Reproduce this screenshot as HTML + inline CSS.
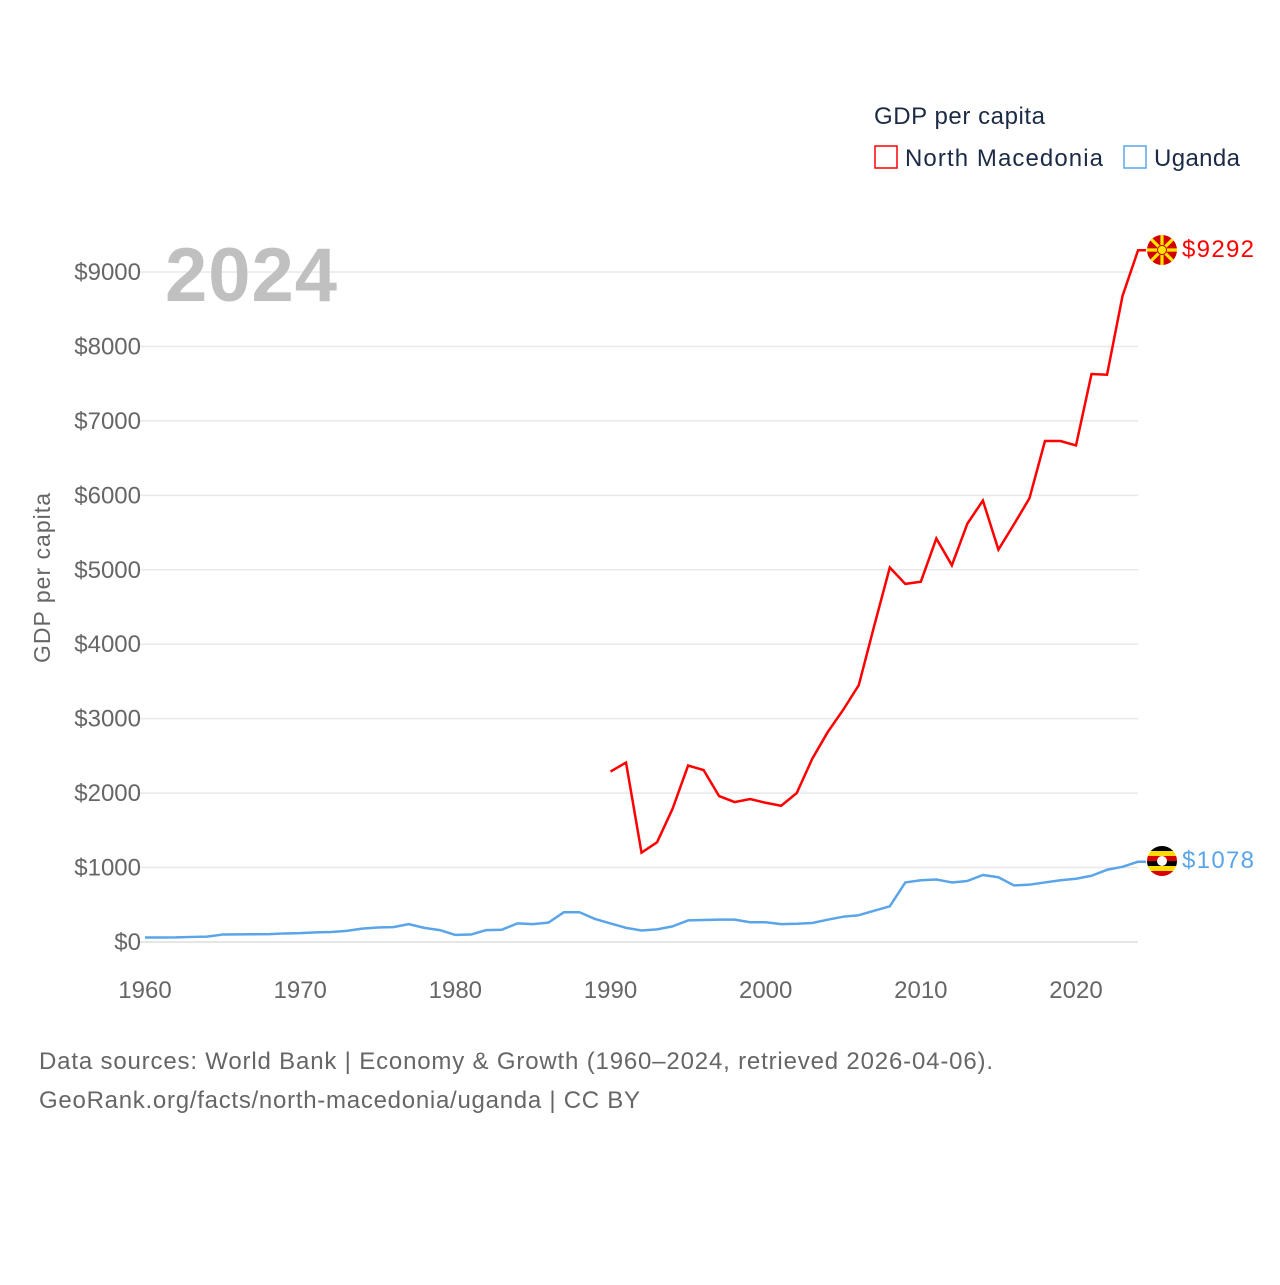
<!DOCTYPE html>
<html><head><meta charset="utf-8"><style>
body{margin:0;background:#fff;font-family:"Liberation Sans",sans-serif}
svg text{font-family:"Liberation Sans",sans-serif}
</style></head><body>
<svg id="chart" width="1280" height="1280" xmlns="http://www.w3.org/2000/svg">
<rect width="1280" height="1280" fill="#fff"/>
<g id="grid"></g>
<g id="yticks"></g>
<g id="xticks"></g>
<text x="165" y="301" font-size="76" font-weight="bold" fill="#c0c0c0" textLength="172">2024</text>
<text transform="translate(50,578) rotate(-90)" text-anchor="middle" font-size="23" fill="#666" textLength="170">GDP per capita</text>
<g>
<text x="874" y="124" font-size="24" fill="#1c2b45" textLength="171">GDP per capita</text>
<rect x="875" y="146" width="22" height="22" fill="none" stroke="#f00" stroke-width="1.5"/>
<text x="905" y="166" font-size="24" fill="#1c2b45" textLength="198">North Macedonia</text>
<rect x="1124" y="146" width="22" height="22" fill="none" stroke="#5aa5ea" stroke-width="1.5"/>
<text x="1154" y="166" font-size="24" fill="#1c2b45" textLength="86">Uganda</text>
</g>
<g id="series"></g>
<g>
<circle cx="1162" cy="250" r="15" fill="#d20000"/>
<g stroke="#ffe600" stroke-width="3.2">
<line x1="1162" y1="235" x2="1162" y2="265"/><line x1="1147" y1="250" x2="1177" y2="250"/>
<line x1="1151.4" y1="239.4" x2="1172.6" y2="260.6"/><line x1="1172.6" y1="239.4" x2="1151.4" y2="260.6"/>
</g><circle cx="1162" cy="250" r="4.5" fill="#ffe600" stroke="#d20000" stroke-width="1"/>
</g>
<g>
<clipPath id="ugc"><circle cx="1162" cy="861" r="15"/></clipPath>
<g clip-path="url(#ugc)">
<rect x="1147" y="846" width="30" height="5" fill="#000"/><rect x="1147" y="851" width="30" height="5" fill="#fcdc04"/>
<rect x="1147" y="856" width="30" height="5" fill="#d90000"/><rect x="1147" y="861" width="30" height="5" fill="#000"/>
<rect x="1147" y="866" width="30" height="5" fill="#fcdc04"/><rect x="1147" y="871" width="30" height="5" fill="#d90000"/>
</g><circle cx="1162" cy="861" r="5" fill="#fff"/>
</g>
<text x="1182" y="257" font-size="24" fill="#f00" textLength="72">$9292</text>
<text x="1182" y="868" font-size="24" fill="#5aa5ea" textLength="72">$1078</text>
<text x="39" y="1069" font-size="24" fill="#666" textLength="954">Data sources: World Bank | Economy &amp; Growth (1960–2024, retrieved 2026-04-06).</text>
<text x="39" y="1108" font-size="24" fill="#666" textLength="601">GeoRank.org/facts/north-macedonia/uganda | CC BY</text>
</svg>
<script>
const years = [];for(let y=1960;y<=2024;y++)years.push(y);
const ugandaValues = [60,61,62,68,72,100,102,104,105,115,120,130,135,150,180,195,200,240,190,160,95,100,160,165,250,240,260,400,400,310,250,190,155,170,210,290,295,300,300,265,265,240,245,255,300,340,360,420,480,800,830,840,800,820,900,870,760,770,800,830,850,890,970,1010,1078];
const mkStart = 1990;
const mkValues = [2290,2410,1200,1340,1790,2370,2310,1960,1880,1920,1870,1830,2000,2460,2820,3120,3450,4250,5030,4810,4840,5420,5060,5620,5930,5270,5610,5960,6730,6730,6670,7630,7620,8680,9292];
const yTicks = [0,1000,2000,3000,4000,5000,6000,7000,8000,9000];
const xTicks = [1960,1970,1980,1990,2000,2010,2020];
const NS="http://www.w3.org/2000/svg";
const xs = y => 145 + (y-1960)*(1076-145)/60;
const ys = v => 942 - v*(942-272)/9000;
function mk(tag,attrs,parent){const e=document.createElementNS(NS,tag);for(const k in attrs)e.setAttribute(k,attrs[k]);parent.appendChild(e);return e;}
const grid=document.getElementById('grid'),yt=document.getElementById('yticks'),xt=document.getElementById('xticks'),se=document.getElementById('series');
yTicks.forEach(v=>{
  const l=mk('line',{x1:140,x2:1138,y1:ys(v),y2:ys(v),stroke:v===0?'#ddd':'#e8e8e8','stroke-width':1.5},grid);
  
  
  const t=mk('text',{x:141,y:ys(v)+8,'text-anchor':'end','font-size':24,fill:'#666'},yt);
  t.textContent='$'+v;
  
  
});
xTicks.forEach(v=>{
  const t=mk('text',{x:xs(v),y:998,'text-anchor':'middle','font-size':24,fill:'#666'},xt);
  t.textContent=v;
  
  
});
const ugPts=ugandaValues.map((v,i)=>xs(years[i])+','+ys(v));
ugPts.push((xs(2024)+8)+','+ys(ugandaValues[ugandaValues.length-1]));
const ug=mk('polyline',{points:ugPts.join(' '),fill:'none',stroke:'#5aa5ea','stroke-width':2.5,'stroke-linejoin':'round'},se);


const mkPts=mkValues.map((v,i)=>xs(mkStart+i)+','+ys(v));
mkPts.push((xs(2024)+8)+','+ys(mkValues[mkValues.length-1]));
const mkl=mk('polyline',{points:mkPts.join(' '),fill:'none',stroke:'#f00','stroke-width':2.5,'stroke-linejoin':'miter'},se);


</script>
</body></html>
